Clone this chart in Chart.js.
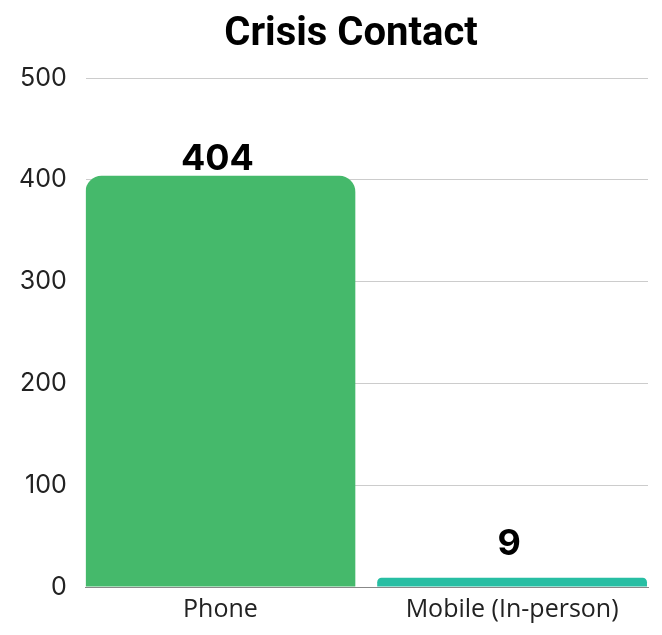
<!DOCTYPE html>
<html>
<head>
<meta charset="utf-8">
<script src="https://cdn.jsdelivr.net/npm/chart.js@4"></script>
<style>
  html, body { margin: 0; padding: 0; background: #fff; }
  #wrap { width: 662px; height: 635px; }
</style>
</head>
<body>
<div id="wrap"><canvas id="grafico"></canvas></div>
<script>
// datos
const categorias = ["Phone", "Mobile (In-person)"];
const valores = [404, 9];
const colores = ["#45b96b", "#27bea3"];
const ticksY = [0, 100, 200, 300, 400, 500];
const titulo = "Crisis Contact";

// etiquetas de valor encima de cada barra + titulo algo corrido a la derecha
const etiquetasValor = {
  id: "etiquetasValor",
  afterDatasetsDraw(chart) {
    const ctx = chart.ctx;
    const meta = chart.getDatasetMeta(0);
    ctx.save();
    ctx.font = "bold 36px Inter, 'Noto Sans', sans-serif";
    ctx.fillStyle = "#000";
    ctx.textAlign = "center";
    ctx.textBaseline = "alphabetic";
    meta.data.forEach((bar, i) => {
      // las barras muy bajas dejan la etiqueta un poco mas arriba
      const y = Math.min(bar.y - 6, bar.base - 32);
      ctx.fillText(String(valores[i]), bar.x - 3, y);
    });

    const tb = chart.titleBlock;
    ctx.font = "bold 40px Roboto, 'Noto Sans', sans-serif";
    ctx.textBaseline = "middle";
    ctx.fillText(titulo, (tb.left + tb.right) / 2 + 27, tb.top + tb.height / 2 - 4);
    ctx.restore();
  }
};

new Chart(document.getElementById("grafico"), {
  type: "bar",
  data: {
    datasets: [{
      data: valores.map((v, i) => ({ x: i, y: v })),
      backgroundColor: colores,
      borderRadius: { topLeft: 16, topRight: 16 },
      borderSkipped: "bottom",
      categoryPercentage: 0.925,
      barPercentage: 1
    }]
  },
  options: {
    responsive: true,
    maintainAspectRatio: false,
    animation: false,
    layout: { padding: { left: 0, right: 14, top: 0, bottom: 2 } },
    plugins: {
      legend: { display: false },
      tooltip: { enabled: false },
      title: {
        display: true,
        text: titulo,
        color: "rgba(0,0,0,0)",
        font: { family: "Roboto, 'Noto Sans', sans-serif", size: 40, weight: "bold" },
        padding: { top: 10, bottom: 20 }
      }
    },
    scales: {
      y: {
        min: 0,
        max: 500,
        afterBuildTicks: (axis) => { axis.ticks = ticksY.map(v => ({ value: v })); },
        grid: { color: "#cccccc", drawTicks: false, lineWidth: 1 },
        border: { display: false },
        ticks: {
          color: "#222",
          padding: 19,
          font: { family: "Inter, 'Noto Sans', sans-serif", size: 25 }
        }
      },
      x: {
        type: "linear",
        offset: false,
        min: -0.462,
        max: 1.466,
        afterBuildTicks: (axis) => { axis.ticks = categorias.map((c, i) => ({ value: i })); },
        grid: { display: false, drawTicks: false },
        border: { display: true, color: "#888888", width: 1 },
        ticks: {
          color: "#222",
          padding: 8,
          callback: (v) => categorias[v],
          font: { family: "'Open Sans', 'Noto Sans', sans-serif", size: 25 }
        }
      }
    }
  },
  plugins: [etiquetasValor]
});
</script>
</body>
</html>
